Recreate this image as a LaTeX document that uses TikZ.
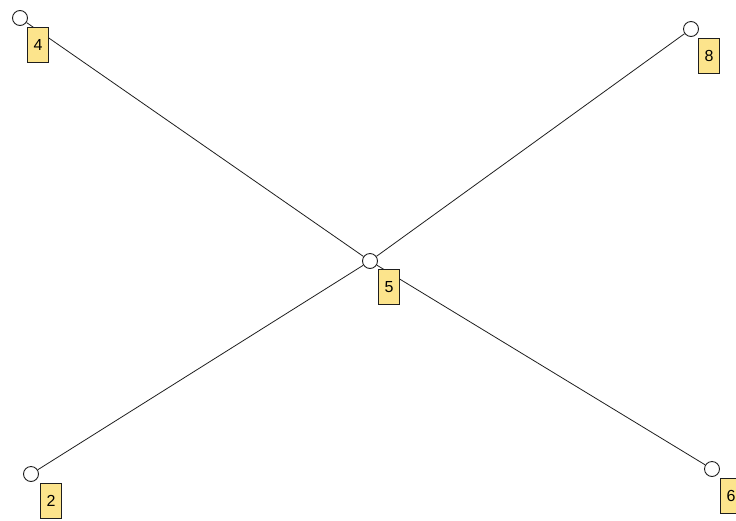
\documentclass[tikz,border=0pt]{standalone}
\usepackage{fontspec}
\setmainfont{Liberation Sans}
\definecolor{lblfill}{RGB}{252,228,140}
\definecolor{edgecol}{RGB}{30,30,30}
\begin{document}
\begin{tikzpicture}[x=1pt,y=-1pt,
  vtx/.style={circle,draw=edgecol,fill=white,line width=0.9pt,minimum size=15pt,inner sep=0pt},
  lbl/.style={draw=edgecol,fill=lblfill,line width=0.9pt,minimum width=21pt,minimum height=35pt,inner sep=0pt,anchor=north west,font=\fontsize{16}{16}\selectfont},
  edge/.style={draw=edgecol,line width=0.8pt}]
\useasboundingbox (0,0) rectangle (736,520);
\node[vtx] (v4) at (20,18) {};
\node[vtx] (v5) at (370,261) {};
\node[vtx] (v6) at (712,469) {};
\node[vtx] (v8) at (691,29) {};
\node[vtx] (v2) at (31,474) {};
\draw[edge] (v4) -- (v5);
\draw[edge] (v5) -- (v8);
\draw[edge] (v5) -- (v2);
\draw[edge] (v5) -- (v6);
\node[lbl] (l4) at (27,27) {4};
\node[lbl] (l5) at (378,269) {5};
\node[lbl] (l6) at (720,478) {6};
\node[lbl] (l8) at (698,38) {8};
\node[lbl] (l2) at (40,483) {2};
\end{tikzpicture}
\end{document}
